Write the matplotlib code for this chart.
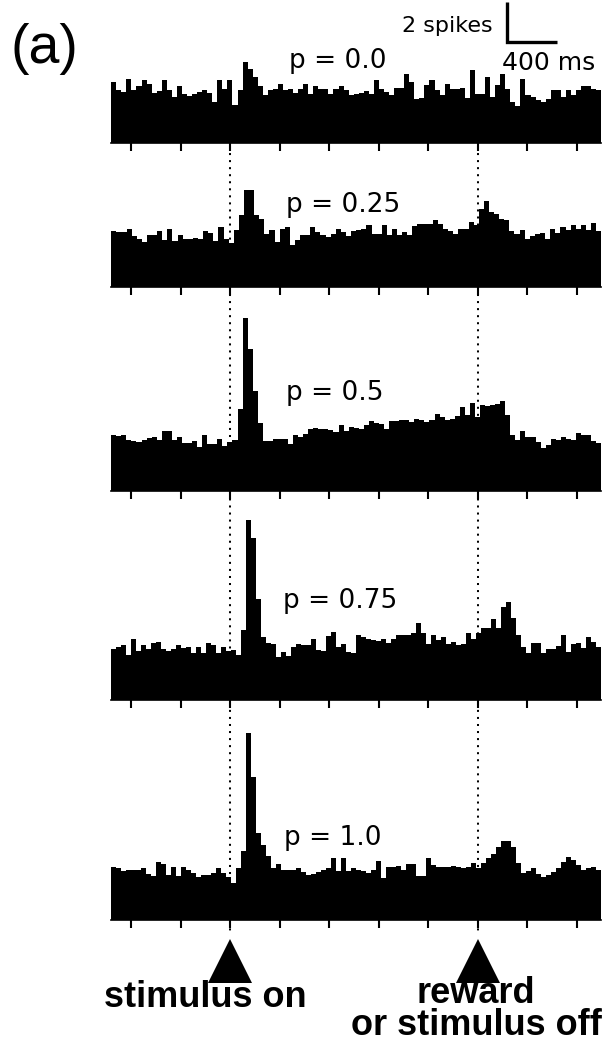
import numpy as np
import matplotlib
matplotlib.use("Agg")
import matplotlib.pyplot as plt

# ---------------- data (spikes per 40 ms bin) ----------------
t_start, t_end = -960, 3000          # ms, relative to stimulus onset
events = [0, 2000]                   # stimulus on, reward / stimulus off
tick_times = list(range(-800, 3000, 400))
probabilities = ["0.0", "0.25", "0.5", "0.75", "1.0"]

psth_p000 = [3.05, 2.63, 2.55, 3.22, 2.63, 2.83, 3.13, 2.97, 2.5, 2.6, 3.13, 2.67, 2.3, 2.83,
             2.47, 2.35, 2.43, 2.55, 2.63, 2.5, 2.05, 3.13, 2.72, 3.13, 1.88, 2.63, 4.05, 3.72,
             3.3, 2.83, 2.38, 2.63, 2.72, 2.93, 2.67, 2.72, 2.5, 2.72, 2.97, 2.43, 2.83, 2.72,
             2.72, 2.47, 2.72, 2.83, 2.67, 2.38, 2.47, 2.5, 2.6, 2.47, 3.13, 2.72, 2.55, 2.38,
             2.77, 2.77, 3.43, 3.05, 2.22, 2.27, 2.88, 3.13, 2.63, 2.38, 2.97, 2.72, 2.72, 2.77,
             2.27, 3.63, 2.47, 2.47, 3.3, 2.3, 2.88, 3.43, 2.72, 2.05, 1.83, 3.22, 2.38, 2.3,
             2.13, 2.05, 2.22, 2.63, 2.63, 2.3, 2.63, 2.38, 2.63, 2.83, 2.83, 2.72, 2.67]

psth_p025 = [2.8, 2.75, 2.75, 2.88, 2.53, 2.42, 2.25, 2.58, 2.58, 2.8, 2.33, 2.88, 2.3, 2.58,
             2.38, 2.38, 2.47, 2.38, 2.8, 2.7, 2.3, 3.0, 2.42, 2.2, 2.87, 3.58, 4.87, 4.87,
             3.58, 3.42, 2.63, 2.87, 2.25, 2.92, 3.0, 2.08, 2.33, 2.58, 2.58, 3.0, 2.75, 2.58,
             2.5, 2.67, 2.88, 2.75, 2.53, 2.78, 2.83, 2.92, 3.12, 2.67, 2.63, 3.12, 2.58, 2.88,
             2.58, 2.75, 2.58, 3.03, 3.13, 3.13, 3.13, 3.33, 3.17, 2.92, 2.78, 2.67, 2.92, 2.92,
             3.25, 3.08, 3.92, 4.3, 3.75, 3.67, 3.42, 3.37, 2.8, 2.63, 2.83, 2.42, 2.53, 2.63,
             2.7, 2.42, 2.92, 2.7, 3.0, 2.83, 3.12, 2.88, 3.08, 2.83, 3.2, 2.8]

psth_p050 = [2.82, 2.73, 2.78, 2.57, 2.5, 2.45, 2.57, 2.67, 2.7, 2.57, 3.0, 3.0, 2.57, 2.7,
             2.4, 2.4, 2.5, 2.2, 2.82, 2.33, 2.33, 2.62, 2.23, 2.45, 2.53, 4.12, 8.67, 7.08,
             5.0, 3.4, 2.5, 2.5, 2.62, 2.62, 2.62, 2.33, 2.78, 2.7, 2.87, 3.12, 3.17, 3.12,
             3.08, 3.07, 2.95, 3.28, 3.0, 3.2, 3.17, 3.12, 3.28, 3.5, 3.4, 3.37, 3.12, 3.5,
             3.5, 3.57, 3.57, 3.45, 3.62, 3.53, 3.45, 3.53, 3.87, 3.7, 3.57, 3.62, 3.73, 4.2,
             3.78, 4.4, 3.7, 4.28, 4.23, 4.28, 4.37, 4.5, 3.78, 2.78, 2.53, 3.0, 2.7, 2.7,
             2.45, 2.17, 2.28, 2.62, 2.57, 2.7, 2.62, 2.53, 2.9, 2.78, 2.78, 2.5, 2.4]

psth_p075 = [2.53, 2.67, 2.75, 2.25, 3.03, 2.47, 2.75, 2.53, 2.83, 2.92, 2.53, 2.47, 2.53, 2.75,
             2.58, 2.63, 2.37, 2.63, 2.37, 2.83, 2.75, 2.37, 2.63, 2.47, 2.5, 2.25, 3.5, 9.0,
             8.08, 5.03, 3.13, 2.83, 2.8, 2.17, 2.42, 2.2, 2.67, 2.8, 2.75, 2.75, 3.03, 2.5,
             2.47, 3.2, 3.42, 2.67, 2.8, 2.42, 2.33, 3.25, 3.17, 3.03, 3.0, 2.97, 3.03, 2.87,
             3.03, 3.25, 3.25, 3.25, 3.33, 3.83, 3.33, 2.8, 3.25, 3.0, 3.13, 2.8, 2.92, 2.75,
             2.8, 3.37, 3.03, 3.33, 3.58, 3.58, 4.03, 3.58, 4.63, 4.92, 4.08, 3.25, 2.67, 2.37,
             2.83, 2.83, 2.37, 2.53, 2.53, 2.7, 3.25, 2.42, 2.8, 2.87, 2.58, 3.13, 2.92, 2.63]

psth_p100 = [2.67, 2.62, 2.47, 2.5, 2.5, 2.5, 2.58, 2.3, 2.2, 2.88, 2.78, 2.25, 2.67, 2.2,
             2.67, 2.5, 2.33, 2.13, 2.25, 2.25, 2.33, 2.58, 2.33, 2.17, 1.83, 2.58, 3.47, 9.33,
             7.17, 4.37, 3.75, 3.2, 2.58, 2.8, 2.5, 2.5, 2.5, 2.58, 2.42, 2.25, 2.3, 2.42,
             2.5, 2.58, 3.08, 2.47, 3.08, 2.47, 2.58, 2.5, 2.47, 2.37, 2.5, 2.97, 2.08, 2.67,
             2.67, 2.7, 2.5, 2.8, 2.8, 2.2, 2.2, 3.08, 2.75, 2.67, 2.67, 2.67, 2.7, 2.67,
             2.58, 2.67, 2.87, 2.58, 2.83, 3.08, 3.3, 3.67, 3.97, 3.97, 3.67, 2.87, 2.33, 2.47,
             2.58, 2.3, 2.13, 2.25, 2.42, 2.62, 2.92, 3.17, 3.0, 2.75, 2.5, 2.58, 2.67, 2.5]

all_psth = [psth_p000, psth_p025, psth_p050, psth_p075, psth_p100]

# ---------------- layout (pixels) ----------------
W, H = 609, 1046
px_per_ms = 49.5 / 400.0
px_per_spike = 20.0
x0_px = 230 - (0 - t_start) * px_per_ms
width_px = (t_end - t_start) * px_per_ms
baselines_px = [143, 287, 491, 700, 920]
panel_h_px = 200
label_pos = [(869, 3.73), (917, 3.77), (846, 4.55), (889, 4.58), (832, 3.75)]

plt.rcParams['font.family'] = ['DejaVu Sans']
fig = plt.figure(figsize=(W / 100, H / 100), dpi=100)
fig.patch.set_facecolor('white')

axes = []
for i, vals in enumerate(all_psth):
    b = baselines_px[i]
    ax = fig.add_axes([x0_px / W, 1 - b / H, width_px / W, panel_h_px / H])
    ax.patch.set_alpha(0)
    edges = np.linspace(t_start, t_end, len(vals) + 1)
    ax.stairs(vals, edges, baseline=0, fill=True, color='black', linewidth=0)
    ax.set_xlim(t_start, t_end)
    ax.set_ylim(0, panel_h_px / px_per_spike)
    for s in ['top', 'right', 'left']:
        ax.spines[s].set_visible(False)
    ax.spines['bottom'].set_linewidth(1.2)
    ax.set_xticks(tick_times)
    ax.set_yticks([])
    ax.tick_params(axis='x', length=5.8, width=1.5, direction='out',
                   labelbottom=False, color='black')
    lx, ly = label_pos[i]
    ax.text(lx, ly, f"p = {probabilities[i]}", ha='center', va='baseline',
            fontsize=19, family='DejaVu Sans')
    axes.append(ax)

# scale bar on first panel
ax = axes[0]
ax.plot([2242, 2242, 2642], [7.05, 5.03, 5.03], color='black', lw=2.4,
        solid_capstyle='butt', solid_joinstyle='miter', clip_on=False)
ax.text(2125, 5.55, "2 spikes", ha='right', va='baseline', fontsize=16)
ax.text(2578, 3.65, "400 ms", ha='center', va='baseline', fontsize=18)

# overlay: event lines, triangles, labels
ov = fig.add_axes([x0_px / W, 0, width_px / W, 1])
ov.set_xlim(t_start, t_end)
ov.set_ylim(H, 0)
ov.axis('off')
ov.vlines(events, 146, 935, colors='black', linestyles=(0, (1, 2.5)), lw=1.45)
ov.plot(events, [960.5, 960.5], ls='none', marker='^', ms=32, color='black',
        markeredgewidth=0)
bold = dict(fontweight='bold', fontsize=26, family='Liberation Sans', va='baseline',
            ha='center', multialignment='center', clip_on=False)
ov.text(-202, 1006.7, "stimulus on", **bold)
ov.text(1988, 1035, "reward\nor stimulus off", linespacing=0.88, **bold)

fig.text(10 / W, 1 - 49 / H, "(a)", ha='left', va='center', fontsize=40,
         family='Liberation Sans')

fig.savefig("out.png", dpi=100, facecolor='white')
